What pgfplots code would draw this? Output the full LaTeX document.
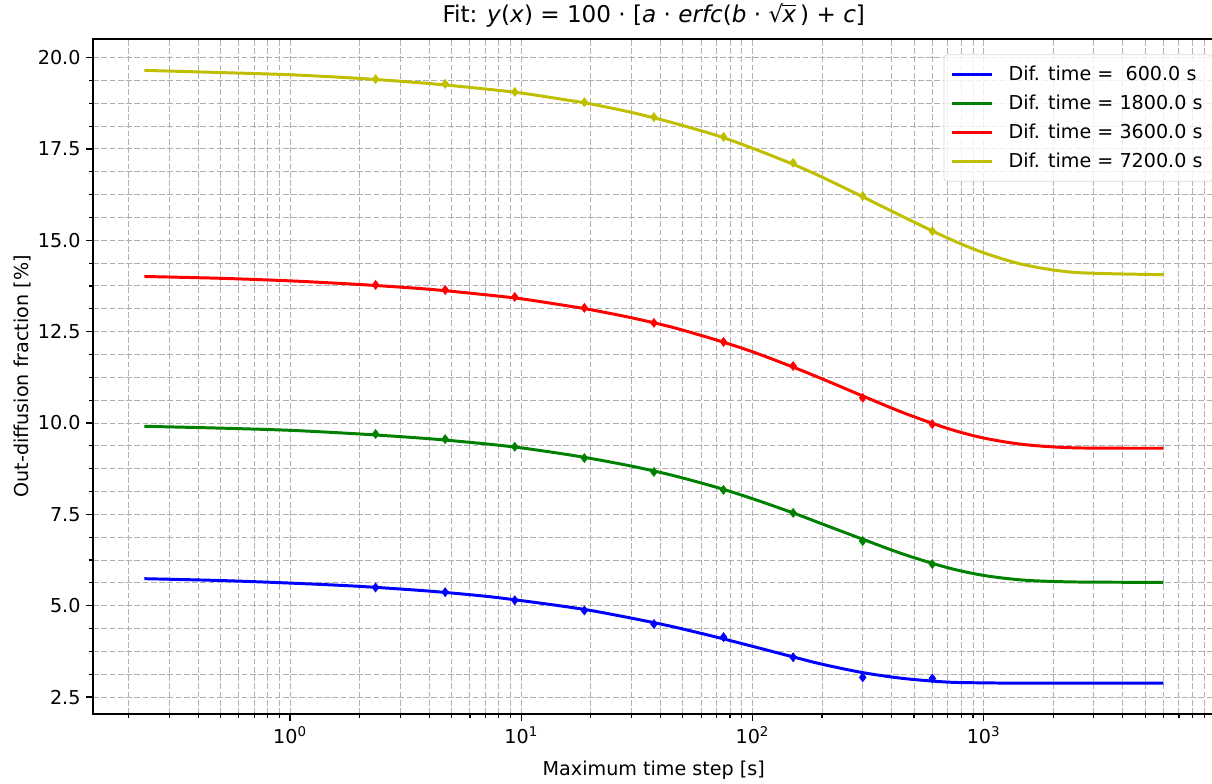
\documentclass[border=0pt]{standalone}
\usepackage{pgfplots}
\usepackage{pgfplotstable}
\pgfplotsset{compat=1.18}
\usepackage{fontspec}
\setmainfont{DejaVu Sans}

\definecolor{mblue}{rgb}{0,0,1}
\definecolor{mgreen}{rgb}{0,0.5,0}
\definecolor{mred}{rgb}{1,0,0}
\definecolor{myellow}{rgb}{0.75,0.75,0}
\definecolor{gridgray}{HTML}{B0B0B0}

% fitted erfc curves, one column per diffusion time
\pgfplotstableread{
x        b    g    r     y
0.234375 5.74 9.91 14.01 19.65
0.5      5.69 9.86 13.96 19.59
1        5.62 9.80 13.89 19.53
2        5.53 9.70 13.79 19.43
4        5.40 9.57 13.66 19.29
7        5.26 9.43 13.51 19.14
10       5.14 9.32 13.40 19.03
15       4.99 9.16 13.23 18.86
20       4.87 9.03 13.10 18.73
30       4.66 8.82 12.88 18.50
45       4.43 8.57 12.62 18.22
70       4.14 8.24 12.27 17.87
100      3.89 7.93 11.95 17.52
150      3.60 7.54 11.53 17.08
200      3.40 7.24 11.21 16.73
300      3.17 6.82 10.74 16.19
450      3.01 6.41 10.28 15.64
700      2.91 6.04 9.85  15.06
1000     2.89 5.83 9.59  14.66
1500     2.88 5.70 9.41  14.33
2500     2.88 5.65 9.32  14.12
6000     2.88 5.64 9.31  14.06
}\fitcurves

% simulated out-diffusion fractions
\pgfplotstableread{
x       b    g    r     y
2.34375 5.50 9.70 13.78 19.41
4.6875  5.37 9.56 13.64 19.28
9.375   5.15 9.35 13.45 19.06
18.75   4.87 9.04 13.15 18.78
37.5    4.50 8.66 12.74 18.37
75      4.14 8.17 12.22 17.83
150     3.59 7.54 11.56 17.12
300     3.04 6.77 10.69 16.21
600     3.01 6.14 9.97  15.25
}\simpoints

\newcommand{\basefont}{\fontsize{11.6}{14}\selectfont}

\begin{document}
\begin{tikzpicture}
\useasboundingbox (-56.4pt,-42.4pt) rectangle (678.2pt,432.7pt);
\begin{axis}[
  at={(0,0)}, anchor=south west,
  scale only axis, width=679.7pt, height=409.1pt,
  xmode=log, xmin=0.1405, xmax=9970, ymin=2.04, ymax=20.51,
  xtick={1,10,100,1000},
  xticklabels={10\textsuperscript{0},10\textsuperscript{1},10\textsuperscript{2},10\textsuperscript{3}},
  minor xtick={0.2,0.3,0.4,0.5,0.6,0.7,0.8,0.9,2,3,4,5,6,7,8,9,20,30,40,50,60,70,80,90,200,300,400,500,600,700,800,900,2000,3000,4000,5000,6000,7000,8000,9000},
  ytick={2.5,5,7.5,10,12.5,15,17.5,20},
  minor y tick num=3,
  yticklabel style={/pgf/number format/.cd, fixed, fixed zerofill, precision=1, assume math mode=true},
  ticklabel style={font=\basefont},
  tick pos=left, tick align=outside,
  major tick length=4.1pt, minor tick length=2.4pt,
  major tick style={black, line width=0.9pt},
  minor tick style={black, line width=0.7pt},
  axis line style={black, line width=0.9pt},
  grid=both,
  major grid style={gridgray, line width=0.6pt, dash pattern=on 3.5pt off 1.5pt},
  minor grid style={gridgray, line width=0.6pt, dash pattern=on 3.5pt off 1.5pt},
  xlabel={Maximum time step [s]},
  ylabel={Out-diffusion fraction [\%]},
  label style={font=\basefont},
  xlabel style={yshift=-3.5pt},
  ylabel style={yshift=-3pt},
  title={Fit: \textit{y}(\textit{x}) = 100 · [\textit{a} · \textit{erfc}(\textit{b} · √\kern-0.5pt\makebox[0pt][l]{\rule[10pt]{8pt}{0.7pt}}\textit{x}\,) + \textit{c}]},
  title style={font=\fontsize{14}{17}\selectfont, yshift=-2.5pt},
  legend style={at={(1,1)}, anchor=north east, xshift=-1pt, yshift=-9.4pt,
    draw=black!15, rounded corners=2pt, fill=white, fill opacity=0.8, text opacity=1,
    font=\basefont, inner xsep=4pt, inner ysep=4.6pt, row sep=3.4pt,
    cells={inner xsep=0pt, inner ysep=0pt},
    /tikz/every odd column/.append style={column sep=7.3pt}},
  legend cell align=left,
  legend image code/.code={\draw[#1] (0pt,0pt) -- (24pt,0pt);},
]
\addplot[mblue, line width=1.8pt, smooth] table[x=x, y=b] {\fitcurves};
\addlegendentry{Dif. time =\ \ 600.0 s}
\addplot[mgreen, line width=1.8pt, smooth] table[x=x, y=g] {\fitcurves};
\addlegendentry{Dif. time = 1800.0 s}
\addplot[mred, line width=1.8pt, smooth] table[x=x, y=r] {\fitcurves};
\addlegendentry{Dif. time = 3600.0 s}
\addplot[myellow, line width=1.8pt, smooth] table[x=x, y=y] {\fitcurves};
\addlegendentry{Dif. time = 7200.0 s}

\addplot[mblue, only marks, mark=diamond*, mark size=2.7pt, forget plot] table[x=x, y=b] {\simpoints};
\addplot[mgreen, only marks, mark=diamond*, mark size=2.7pt, forget plot] table[x=x, y=g] {\simpoints};
\addplot[mred, only marks, mark=diamond*, mark size=2.7pt, forget plot] table[x=x, y=r] {\simpoints};
\addplot[myellow, only marks, mark=diamond*, mark size=2.7pt, forget plot] table[x=x, y=y] {\simpoints};
\end{axis}
\end{tikzpicture}
\end{document}
